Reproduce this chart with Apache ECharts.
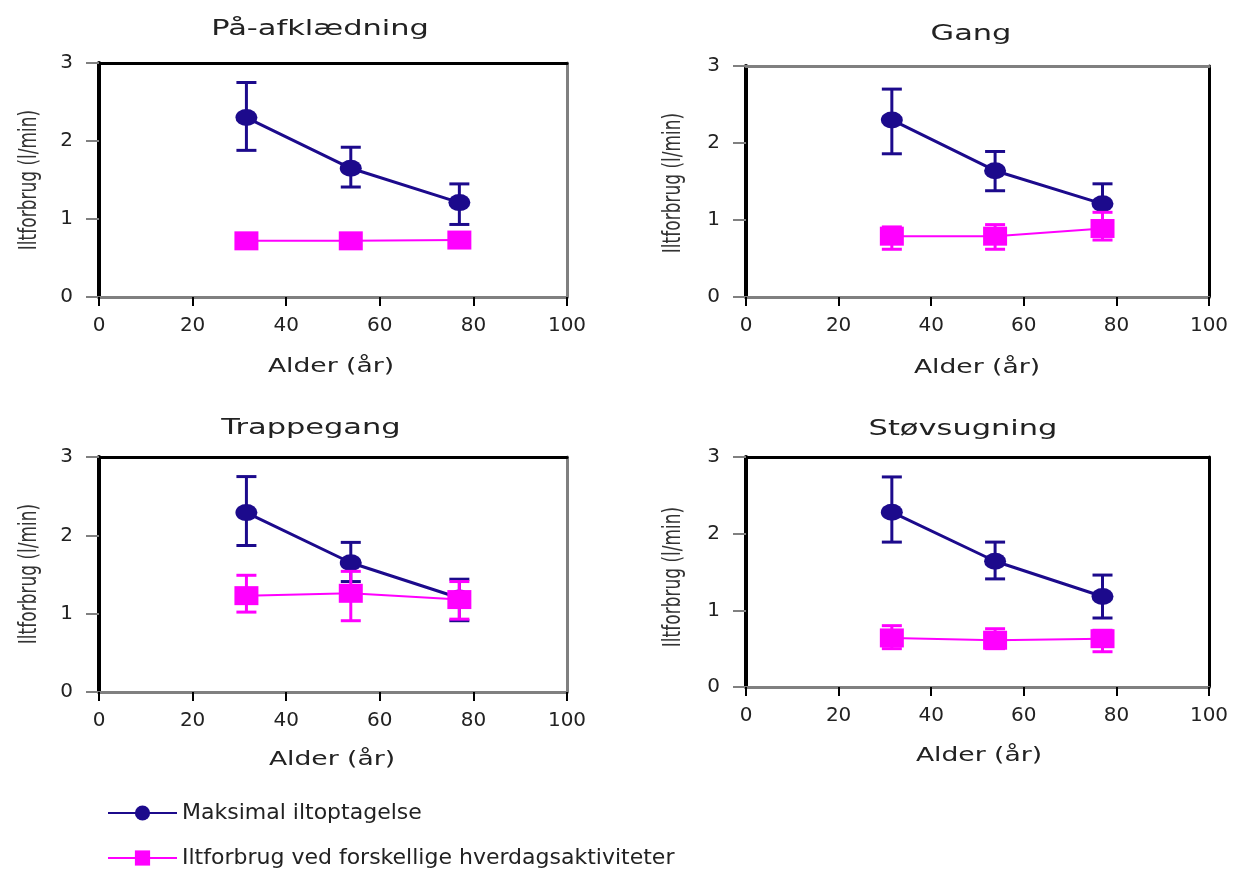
<!DOCTYPE html>
<html>
<head>
<meta charset="utf-8">
<script src="https://cdn.jsdelivr.net/npm/echarts@6/dist/echarts.min.js"></script>
<style>
html, body { margin: 0; padding: 0; background: #fff; }
#chart { width: 1234px; height: 871px; }
</style>
</head>
<body>
<div id="chart"></div>
<script>
// panel titles and shared x values
var titles = ['På-afklædning', 'Gang', 'Trappegang', 'Støvsugning'];
var xName = 'Alder (år)';
var yName = 'Iltforbrug (l/min)';
var ages = [31.5, 53.8, 77];
var xTicks = [0, 20, 40, 60, 80, 100];
var yTicks = [0, 1, 2, 3];

// Maksimal iltoptagelse, one row per panel
var maxMean = [[2.30, 1.65, 1.21], [2.30, 1.64, 1.21], [2.29, 1.65, 1.20], [2.28, 1.64, 1.18]];
var maxLow  = [[1.88, 1.41, 0.93], [1.86, 1.38, 0.98], [1.87, 1.41, 0.91], [1.89, 1.41, 0.90]];
var maxHigh = [[2.75, 1.92, 1.45], [2.70, 1.89, 1.47], [2.75, 1.91, 1.44], [2.74, 1.89, 1.46]];

// Iltforbrug ved forskellige hverdagsaktiviteter
var dayMean = [[0.72, 0.72, 0.73], [0.79, 0.79, 0.89], [1.23, 1.26, 1.18], [0.64, 0.61, 0.63]];
var dayLow  = [[0.66, 0.66, 0.67], [0.62, 0.62, 0.74], [1.02, 0.91, 0.93], [0.50, 0.50, 0.46]];
var dayHigh = [[0.78, 0.78, 0.79], [0.91, 0.94, 1.10], [1.49, 1.54, 1.41], [0.80, 0.76, 0.74]];

var seriesNames = ['Maksimal iltoptagelse', 'Iltforbrug ved forskellige hverdagsaktiviteter'];
var navy = '#1c0a8c';
var pink = '#ff00ff';
var font = 'DejaVu Sans';
var textColor = '#222';

// layout of the four panels
var grids = [
  { left: 99, top: 63, width: 468, height: 234 },
  { left: 746, top: 66, width: 463, height: 231 },
  { left: 99, top: 457, width: 468, height: 235 },
  { left: 746, top: 457, width: 463, height: 230 }
];
var titlePos = [[320, 30], [971, 35], [311, 429], [963, 430]];
var xNamePos = [[331, 367], [977, 368], [332, 760], [979, 756]];
var yNamePos = [[30, 180], [674, 183], [30, 574], [674, 577]];
// frame colours: [top, right]
var frameCol = [['#000', '#808080'], ['#808080', '#000'], ['#000', '#808080'], ['#000', '#000']];

function errorBars(color, width) {
  return function (params, api) {
    var x = api.value(0);
    var lo = api.coord([x, api.value(1)]);
    var hi = api.coord([x, api.value(2)]);
    var half = 10;
    var style = { stroke: color, lineWidth: width };
    return {
      type: 'group',
      children: [
        { type: 'line', shape: { x1: hi[0], y1: hi[1], x2: lo[0], y2: lo[1] }, style: style },
        { type: 'line', shape: { x1: hi[0] - half, y1: hi[1], x2: hi[0] + half, y2: hi[1] }, style: style },
        { type: 'line', shape: { x1: lo[0] - half, y1: lo[1], x2: lo[0] + half, y2: lo[1] }, style: style }
      ]
    };
  };
}

var grid = [], xAxis = [], yAxis = [], series = [], graphic = [];
for (var p = 0; p < 4; p++) {
  grid.push({ left: grids[p].left, top: grids[p].top, width: grids[p].width, height: grids[p].height });

  // stretched text, as in the scanned original
  graphic.push({
    type: 'text', x: titlePos[p][0], y: titlePos[p][1], scaleX: 1.45,
    style: { text: titles[p], fontFamily: font, fontSize: 21, fill: textColor, align: 'center', verticalAlign: 'middle' }
  });
  graphic.push({
    type: 'text', x: xNamePos[p][0], y: xNamePos[p][1], scaleX: 1.33,
    style: { text: xName, fontFamily: font, fontSize: 20, fill: textColor, align: 'center', verticalAlign: 'middle' }
  });
  graphic.push({
    type: 'text', x: yNamePos[p][0], y: yNamePos[p][1], rotation: Math.PI / 2, scaleY: 1.45,
    style: { text: yName, fontFamily: font, fontSize: 17, fill: '#333', align: 'center', verticalAlign: 'middle' }
  });

  // bottom axis
  xAxis.push({
    type: 'value', gridIndex: p, min: xTicks[0], max: xTicks[xTicks.length - 1], interval: 20,
    axisLine: { show: true, onZero: false, lineStyle: { color: '#808080', width: 3 } },
    axisTick: { show: true, length: 9, lineStyle: { color: '#000', width: 2 } },
    axisLabel: { fontFamily: font, fontSize: 20, color: textColor, margin: 19 },
    splitLine: { show: false }
  });
  // top frame line
  xAxis.push({
    type: 'value', gridIndex: p, position: 'top', min: 0, max: 100,
    axisLine: { show: true, onZero: false, lineStyle: { color: frameCol[p][0], width: 3 } },
    axisTick: { show: false }, axisLabel: { show: false }, splitLine: { show: false }
  });
  // left axis
  yAxis.push({
    type: 'value', gridIndex: p, min: yTicks[0], max: yTicks[yTicks.length - 1], interval: 1,
    axisLine: { show: true, onZero: false, lineStyle: { color: '#000', width: 4 } },
    axisTick: { show: true, length: 13, lineStyle: { color: '#808080', width: 2 } },
    axisLabel: { fontFamily: font, fontSize: 20, color: textColor, margin: 26 },
    splitLine: { show: false }
  });
  // right frame line
  yAxis.push({
    type: 'value', gridIndex: p, position: 'right', min: 0, max: 3,
    axisLine: { show: true, onZero: false, lineStyle: { color: frameCol[p][1], width: 3 } },
    axisTick: { show: false }, axisLabel: { show: false }, splitLine: { show: false }
  });

  var maxErr = [], dayErr = [], maxLine = [], dayLine = [];
  for (var i = 0; i < ages.length; i++) {
    maxErr.push([ages[i], maxLow[p][i], maxHigh[p][i]]);
    dayErr.push([ages[i], dayLow[p][i], dayHigh[p][i]]);
    maxLine.push([ages[i], maxMean[p][i]]);
    dayLine.push([ages[i], dayMean[p][i]]);
  }

  var xi = p * 2, yi = p * 2;
  series.push({
    type: 'custom', xAxisIndex: xi, yAxisIndex: yi, renderItem: errorBars(navy, 3),
    encode: { x: 0, y: [1, 2] }, data: maxErr, z: 3, silent: true
  });
  series.push({
    type: 'custom', xAxisIndex: xi, yAxisIndex: yi, renderItem: errorBars(pink, 3),
    encode: { x: 0, y: [1, 2] }, data: dayErr, z: 5, silent: true
  });
  series.push({
    name: seriesNames[0], type: 'line', xAxisIndex: xi, yAxisIndex: yi,
    data: maxLine, symbol: 'circle', symbolSize: [22, 17], color: navy,
    lineStyle: { color: navy, width: 3 }, itemStyle: { color: navy }, z: 4
  });
  series.push({
    name: seriesNames[1], type: 'line', xAxisIndex: xi, yAxisIndex: yi,
    data: dayLine, symbol: 'rect', symbolSize: [24, 19], color: pink,
    lineStyle: { color: pink, width: 2 }, itemStyle: { color: pink }, z: 6
  });
}

// one legend per row, stacked under the left column
var legendTops = [797, 842];
var legend = seriesNames.map(function (name, k) {
  return {
    data: [name], orient: 'horizontal', left: 102, top: legendTops[k],
    itemWidth: 69, itemHeight: 19,
    textStyle: { fontFamily: font, fontSize: 22, color: textColor }
  };
});

var chart = echarts.init(document.getElementById('chart'));
chart.setOption({
  backgroundColor: '#fff',
  animation: false,
  grid: grid,
  xAxis: xAxis,
  yAxis: yAxis,
  graphic: graphic,
  legend: legend,
  series: series
});
</script>
</body>
</html>
